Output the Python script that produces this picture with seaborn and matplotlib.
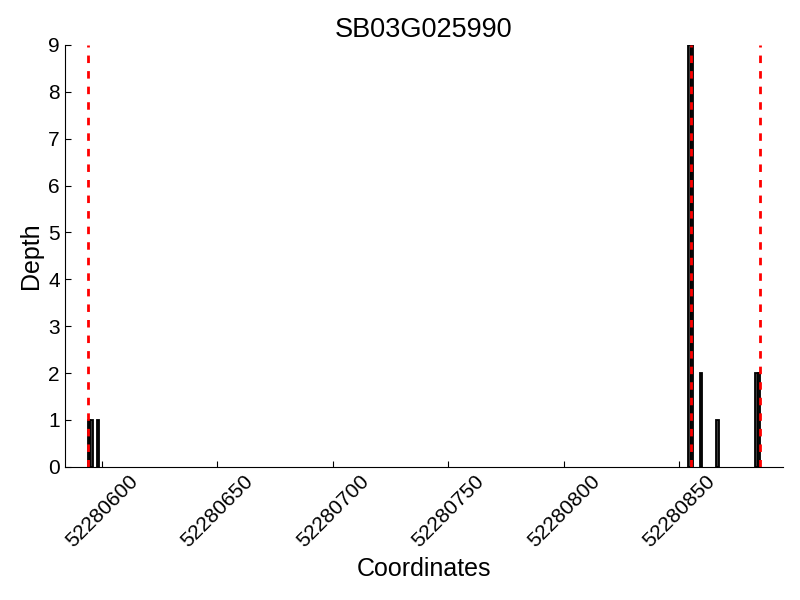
import numpy as np
import pandas as pd
import seaborn as sns
import matplotlib.pyplot as plt
from matplotlib.ticker import MultipleLocator

# Data
gene = "SB03G025990"
positions = [52280594, 52280595, 52280598, 52280854, 52280855,
             52280859, 52280866, 52280883, 52280884]
depths = [1, 1, 1, 9, 9, 2, 1, 2, 2]
boundaries = [52280594, 52280855, 52280885]
x_range = (52280584, 52280895)

df = pd.DataFrame({"pos": positions, "depth": depths})

#--------------------------------------------------------------------------------------------------

sns.set_style("ticks", {"xtick.direction": "in", "ytick.direction": "in",
                        "axes.edgecolor": "black", "text.color": "black",
                        "axes.labelcolor": "black", "xtick.color": "black",
                        "ytick.color": "black"})
plt.rcParams["font.family"] = ["Liberation Sans", "DejaVu Sans"]

fig, ax = plt.subplots(figsize=(8, 6), dpi=100)

# Depth per base as 1bp bins
sns.histplot(data=df, x="pos", weights="depth", binwidth=1,
             binrange=(boundaries[0], boundaries[-1] + 1),
             color="#3a3a3a", edgecolor="black", linewidth=1.3, alpha=1, ax=ax)

# drop empty bins so they don't thicken the baseline
for p in list(ax.patches):
    if p.get_height() == 0:
        p.remove()

# Gene boundaries
for b in boundaries:
    ax.axvline(b, color="red", linestyle=(0, (2.7, 2.9)), linewidth=2)

ax.set_xlim(*x_range)
ax.set_ylim(0, 9)
ax.xaxis.set_major_locator(MultipleLocator(50))
ax.yaxis.set_major_locator(MultipleLocator(1))
ax.ticklabel_format(axis="x", useOffset=False, style="plain")
ax.tick_params(axis="both", labelsize=15, length=4, width=0.8)
plt.setp(ax.get_xticklabels(), rotation=45)

ax.set_title(gene, fontsize=19.5)
ax.set_xlabel("Coordinates", fontsize=18)
ax.set_ylabel("Depth", fontsize=18)
sns.despine(ax=ax)

fig.subplots_adjust(left=0.081, right=0.979, bottom=0.222, top=0.925)
fig.savefig("out.png", dpi=100)
